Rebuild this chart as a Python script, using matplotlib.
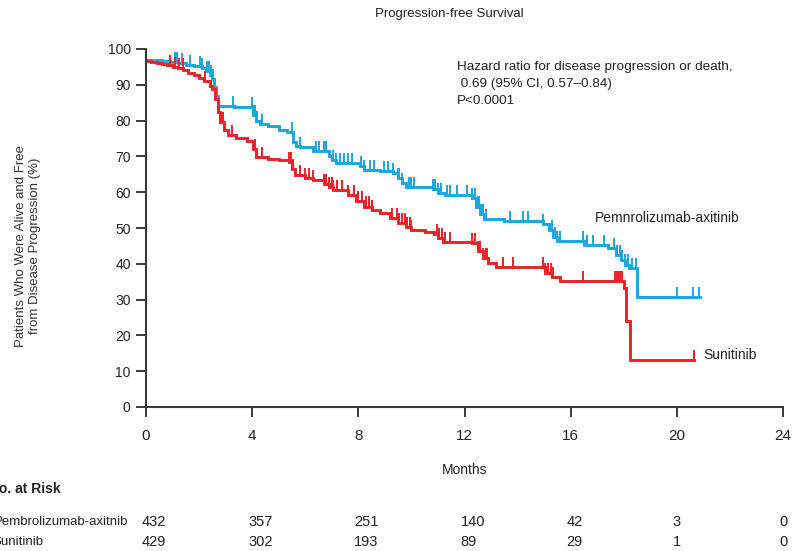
import numpy as np
import matplotlib
matplotlib.use('Agg')
import matplotlib.pyplot as plt
import matplotlib.transforms as mtransforms

# Kaplan-Meier step points (months, % free of progression)
pa_time = [0, 0.3, 0.6, 0.9, 1.2, 1.5, 1.8, 2.1, 2.25, 2.4, 2.5, 2.58, 2.64, 2.7, 3.3, 4.05,
           4.15, 4.3, 4.6, 5.0, 5.3, 5.55, 5.65, 5.8, 6.3, 6.9, 7.0, 7.15, 8.05, 8.2, 8.8, 9.3,
           9.5, 9.65, 9.8, 10.8, 11.0, 11.25, 12.3, 12.45, 12.6, 12.75, 13.5, 14.95, 15.2,
           15.35, 15.5, 16.5, 17.4, 17.7, 17.9, 18.05, 18.2, 18.5, 20.87]
pa_surv = [97.0, 96.9, 96.6, 96.3, 96.0, 95.6, 95.2, 94.7, 93.8, 92.8, 91.5, 89.5, 87.0, 84.0,
           83.7, 81.5, 79.8, 79.0, 78.5, 77.5, 76.7, 74.0, 73.0, 72.5, 71.5, 70.0, 69.0, 68.2,
           67.2, 66.2, 65.8, 65.3, 64.0, 62.5, 61.5, 60.8, 59.8, 59.2, 58.5, 56.0, 54.0, 52.5,
           52.0, 51.2, 49.5, 47.5, 46.3, 45.2, 44.4, 42.5, 41.0, 39.8, 38.8, 30.8, 30.8]
pa_cens = [1.09, 1.17, 1.35, 1.66, 2.03, 2.1, 2.3, 2.38, 2.45, 2.52, 3.28, 4.0, 4.05, 4.12, 4.2,
           4.37, 5.5, 5.8, 6.4, 6.5, 6.7, 6.8, 7.05, 7.15, 7.3, 7.45, 7.6, 7.75, 8.1, 8.2, 8.45,
           8.6, 8.95, 9.1, 9.3, 9.5, 9.55, 9.65, 9.9, 10.0, 10.1, 10.8, 10.9, 11.0, 11.1, 11.35,
           11.45, 11.7, 12.1, 12.3, 12.4, 12.5, 12.55, 12.6, 12.65, 12.7, 12.8, 13.7, 14.2, 14.4,
           14.96, 15.3, 15.4, 15.5, 15.6, 16.45, 16.6, 16.85, 17.25, 17.65, 17.75, 17.85, 17.95,
           18.05, 18.15, 18.3, 18.45, 20.0, 20.6, 20.84]

su_time = [0, 0.2, 0.4, 0.6, 0.8, 1.0, 1.2, 1.4, 1.6, 1.8, 2.0, 2.2, 2.4, 2.5, 2.6, 2.7, 2.8,
           2.95, 3.1, 3.4, 3.8, 4.05, 4.15, 4.6, 5.0, 5.4, 5.5, 5.6, 6.0, 6.3, 6.7, 6.9, 7.05,
           7.6, 7.9, 8.2, 8.5, 8.8, 9.2, 9.5, 9.8, 10.0, 10.5, 10.85, 11.0, 11.2, 12.3, 12.5,
           12.7, 12.9, 13.2, 15.05, 15.3, 15.6, 18.0, 18.1, 18.25, 20.65]
su_surv = [96.6, 96.4, 96.1, 95.8, 95.5, 95.1, 94.7, 94.1, 93.4, 92.7, 91.8, 91.0, 89.8, 88.8,
           86.0, 82.5, 79.5, 77.5, 76.0, 75.1, 74.3, 72.0, 69.8, 69.4, 69.0, 68.3, 66.5, 64.8,
           64.0, 63.3, 62.3, 61.5, 60.5, 59.2, 57.5, 56.0, 55.0, 54.2, 52.8, 51.5, 50.2, 49.4,
           48.9, 48.3, 47.2, 46.0, 45.7, 43.5, 41.5, 40.2, 39.2, 37.5, 36.2, 35.3, 33.3, 24.0,
           13.0, 13.0]
su_cens = [0.9, 1.09, 1.24, 1.39, 2.22, 2.7, 2.75, 2.8, 2.85, 2.9, 3.24, 4.1, 4.37, 5.4, 5.45,
           5.5, 5.55, 5.8, 6.0, 6.15, 6.3, 6.7, 6.8, 6.9, 7.0, 7.05, 7.2, 7.4, 7.6, 7.85, 8.0,
           8.15, 8.3, 8.4, 8.5, 9.27, 9.45, 9.55, 9.65, 9.75, 9.85, 9.95, 10.0, 10.95, 11.05,
           11.15, 11.25, 11.45, 12.3, 12.4, 12.5, 12.6, 12.7, 12.8, 12.85, 13.45, 13.83, 14.96,
           15.05, 15.15, 15.25, 15.35, 16.47, 17.67, 17.72, 17.77, 17.82, 17.87, 17.92, 20.65]

months = [0, 4, 8, 12, 16, 20, 24]
risk_pa = [432, 357, 251, 140, 42, 3, 0]
risk_su = [429, 302, 193, 89, 29, 1, 0]

blue = '#1aa7e0'
red = '#ec2227'
arial = ['Liberation Sans', 'DejaVu Sans']
ink = '#222222'


def surv_at(times, surv, t):
    i = np.searchsorted(times, t, side='right') - 1
    return np.array(surv)[i]


fig = plt.figure(figsize=(7.95, 5.51), dpi=100)
ax = fig.add_axes([146 / 795, 1 - 407 / 551, 637 / 795, 358 / 551])

for times, surv, cens, col in [(pa_time, pa_surv, pa_cens, blue), (su_time, su_surv, su_cens, red)]:
    ax.step(times, surv, where='post', color=col, lw=2.1, solid_joinstyle='miter')
    cy = surv_at(times, surv, cens)
    ax.vlines(cens, cy, cy + 2.8, color=col, lw=1.4)

ax.set_xlim(0, 24)
ax.set_ylim(0, 100)
ax.set_xticks(months)
ax.set_yticks(range(0, 101, 10))
ax.set_xticklabels([str(m) for m in months], family=arial, fontsize=11, color=ink)
ax.set_yticklabels([str(v) for v in range(0, 101, 10)], family=arial, fontsize=10, color=ink)
for s in ['top', 'right']:
    ax.spines[s].set_visible(False)
for s in ['left', 'bottom']:
    ax.spines[s].set_color('#3a3a3a')
    ax.spines[s].set_linewidth(1.5)
ax.tick_params(length=7, width=1.4, color='#3a3a3a', pad=4)
ax.tick_params(axis='x', pad=9)

ax.set_ylabel('Patients Who Were Alive and Free\nfrom Disease Progression (%)',
              family=arial, fontsize=9.5, color='#333333')
ax.yaxis.set_label_coords(-0.165, 0.45)

hr_lines = ['Hazard ratio for disease progression or death,',
            ' 0.69 (95% CI, 0.57\u20130.84)',
            'P<0.0001']
for k, line in enumerate(hr_lines):
    fig.text(457 / 795, 1 - (67 + 17 * k) / 551, line, family=arial, fontsize=9.7,
             color=ink, va='center')
ax.text(16.9, 52.8, 'Pemnrolizumab-axitinib', family=arial, fontsize=10, color=ink, va='center')
ax.text(20.98, 14.5, 'Sunitinib', family=arial, fontsize=10, color=ink, va='center')

fig.text(449 / 795, 1 - 14 / 551, 'Progression-free Survival', family=arial, fontsize=9.5,
         color=ink, ha='center', va='center')
fig.text(465 / 795, 1 - 470 / 551, 'Months', family=arial, fontsize=10, color=ink,
         ha='center', va='center')
fig.text(61 / 795, 1 - 489 / 551, 'No. at Risk', family=arial, fontsize=10, weight='bold',
         color=ink, va='center', ha='right')
fig.text(128 / 795, 1 - 522 / 551, 'Pembrolizumab-axitnib', family=arial, fontsize=9.5,
         color=ink, va='center', ha='right')
fig.text(43 / 795, 1 - 542 / 551, 'Sunitinib', family=arial, fontsize=9.5,
         color=ink, va='center', ha='right')

trans = mtransforms.blended_transform_factory(ax.transData, fig.transFigure)
for m, a, b in zip(months, risk_pa, risk_su):
    ax.text(m - 0.15, 1 - 522 / 551, str(a), transform=trans, family=arial, fontsize=10.5,
            color=ink, va='center', ha='left', clip_on=False)
    ax.text(m - 0.15, 1 - 542 / 551, str(b), transform=trans, family=arial, fontsize=10.5,
            color=ink, va='center', ha='left', clip_on=False)

fig.savefig('out.png', dpi=100)
